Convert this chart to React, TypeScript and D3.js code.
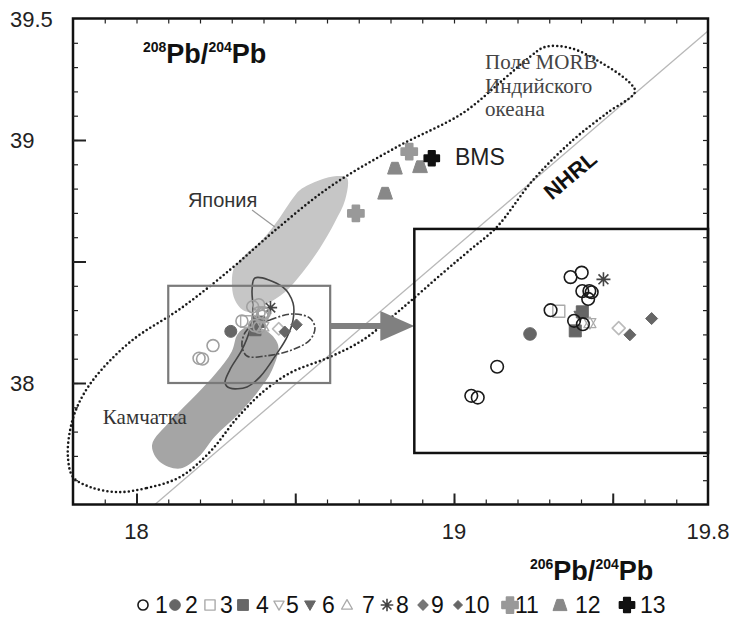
import React, { useEffect, useRef } from 'react';
import * as d3 from 'd3';

type Pt = [number, number];

// axis setup
const xDomain: Pt = [17.8, 19.8];
const yDomain: Pt = [37.5, 39.5];
const xTickLabels = [18, 19, 19.8];
const yTickLabels = [38, 39, 39.5];
const xMajorTicks = [18, 18.5, 19, 19.5];
const yMajorTicks = [38, 38.5, 39];

// Indian Ocean MORB field (dotted outline)
const morbField: Pt[] = [
  [17.939, 37.551], [18.033, 37.568], [18.137, 37.613], [18.231, 37.716], [18.317, 37.856],
  [18.398, 37.963], [18.483, 38.041], [18.609, 38.107], [18.713, 38.177], [18.83, 38.3],
  [18.965, 38.453], [19.05, 38.547], [19.135, 38.642], [19.249, 38.835], [19.375, 39.0],
  [19.482, 39.111], [19.57, 39.198], [19.554, 39.235], [19.46, 39.321], [19.365, 39.379],
  [19.287, 39.383], [19.239, 39.342], [19.154, 39.247], [19.028, 39.111], [18.82, 38.971],
  [18.609, 38.807], [18.43, 38.621], [18.301, 38.473], [18.146, 38.313], [17.98, 38.169],
  [17.863, 38.012], [17.813, 37.901], [17.791, 37.807], [17.784, 37.696], [17.8, 37.613],
  [17.854, 37.572],
];

const japanField: Pt[] = [
  [18.515, 38.794], [18.578, 38.835], [18.631, 38.852], [18.663, 38.844], [18.657, 38.753],
  [18.625, 38.663], [18.578, 38.556], [18.524, 38.457], [18.468, 38.375], [18.405, 38.321],
  [18.364, 38.292], [18.335, 38.3], [18.31, 38.342], [18.301, 38.395], [18.307, 38.473],
  [18.342, 38.527], [18.395, 38.588], [18.446, 38.671], [18.493, 38.761],
];

const kamchatkaField: Pt[] = [
  [18.348, 38.23], [18.405, 38.218], [18.446, 38.156], [18.427, 38.053], [18.38, 37.96],
  [18.318, 37.868], [18.247, 37.78], [18.195, 37.695], [18.137, 37.648], [18.074, 37.675],
  [18.049, 37.745], [18.11, 37.848], [18.19, 37.955], [18.25, 38.04], [18.3, 38.13],
  [18.318, 38.2],
];

const solidContour: Pt[] = [
  [18.373, 38.432], [18.461, 38.395], [18.493, 38.329], [18.493, 38.259], [18.474, 38.189],
  [18.443, 38.123], [18.389, 38.025], [18.348, 37.984], [18.294, 37.979], [18.279, 38.0],
  [18.294, 38.054], [18.332, 38.136], [18.357, 38.218], [18.367, 38.3], [18.364, 38.383],
];

const dashedContour: Pt[] = [
  [18.348, 38.218], [18.42, 38.259], [18.49, 38.284], [18.546, 38.267], [18.562, 38.226],
  [18.546, 38.177], [18.49, 38.136], [18.405, 38.111], [18.348, 38.111], [18.332, 38.156],
];

const nhrlLine: Pt[] = [[18.058, 37.5], [19.8, 39.449]];
const japanLeader: Pt[] = [[18.364, 38.712], [18.436, 38.642]];

// magnified window: small box on the plot and the inset frame it is drawn into
const zoomX: Pt = [18.1, 18.6];
const zoomY: Pt = [38.0, 38.4];
const insetX: Pt = [18.875, 19.8];
const insetY: Pt = [37.712, 38.634];
const arrowY = 38.235;

// sample groups (206Pb/204Pb, 208Pb/204Pb)
const group1: Pt[] = [
  [18.366, 38.314], [18.385, 38.322], [18.386, 38.289], [18.398, 38.289], [18.402, 38.287],
  [18.396, 38.275], [18.332, 38.255], [18.372, 38.236], [18.387, 38.23], [18.241, 38.154],
  [18.197, 38.102], [18.208, 38.099],
];
const group2: Pt[] = [[18.297, 38.2125]];
const group3: Pt[] = [[18.346, 38.253]];
const group4: Pt[] = [[18.386, 38.252], [18.374, 38.218]];
const group5: Pt[] = [[18.399, 38.232]];
const group6: Pt[] = [[18.382, 38.245]];
const group7: Pt[] = [[18.399, 38.232]];
const group8: Pt[] = [[18.422, 38.31]];
const group9: Pt[] = [[18.448, 38.223]];
const group10: Pt[] = [[18.467, 38.211], [18.504, 38.24]];
const group11: Pt[] = [[18.859, 38.952], [18.691, 38.698]];
const group12: Pt[] = [[18.814, 38.884], [18.893, 38.89], [18.783, 38.781]];
const group13: Pt[] = [[18.93, 38.925]];

const legendLabels = ['1', '2', '3', '4', '5', '6', '7', '8', '9', '10', '11', '12', '13'];

const SANS = '"Liberation Sans", Arial, sans-serif';
const SERIF = '"Liberation Serif", "Times New Roman", serif';

const styles: Record<string, { shape: string; fill: string; stroke: string; sw: number; s: number }> = {
  '1': { shape: 'circle', fill: 'none', stroke: '#1a1a1a', sw: 1.6, s: 6.3 },
  '2': { shape: 'circle', fill: '#666', stroke: '#666', sw: 1, s: 6.3 },
  '3': { shape: 'square', fill: 'none', stroke: '#aaa', sw: 1.4, s: 6 },
  '4': { shape: 'square', fill: '#666', stroke: '#666', sw: 1, s: 6 },
  '5': { shape: 'triDown', fill: 'none', stroke: '#aaa', sw: 1.3, s: 6 },
  '6': { shape: 'triDown', fill: '#666', stroke: '#666', sw: 1, s: 6 },
  '7': { shape: 'triUp', fill: 'none', stroke: '#aaa', sw: 1.3, s: 6 },
  '8': { shape: 'star', fill: 'none', stroke: '#444', sw: 1.6, s: 7 },
  '9': { shape: 'diamond', fill: 'none', stroke: '#bbb', sw: 1.6, s: 6.5 },
  '10': { shape: 'diamond', fill: '#666', stroke: '#666', sw: 1, s: 6 },
  '11': { shape: 'plus', fill: '#999', stroke: '#999', sw: 2, s: 7.5 },
  '12': { shape: 'trap', fill: '#888', stroke: '#888', sw: 1, s: 7 },
  '13': { shape: 'plus', fill: '#111', stroke: '#111', sw: 2, s: 7 },
};

function shapePath(shape: string, s: number): string {
  switch (shape) {
    case 'circle':
      return `M${s},0A${s},${s} 0 1,1 ${-s},0A${s},${s} 0 1,1 ${s},0Z`;
    case 'square':
      return `M${-s},${-s}H${s}V${s}H${-s}Z`;
    case 'triDown':
      return `M${-s},${-0.75 * s}L${s},${-0.75 * s}L0,${s}Z`;
    case 'triUp':
      return `M0,${-s}L${s},${0.75 * s}L${-s},${0.75 * s}Z`;
    case 'diamond':
      return `M0,${-s}L${s},0L0,${s}L${-s},0Z`;
    case 'plus': {
      const a = s * 0.42;
      return `M${-a},${-s}H${a}V${-a}H${s}V${a}H${a}V${s}H${-a}V${a}H${-s}V${-a}H${-a}Z`;
    }
    case 'trap':
      return `M${-0.45 * s},${-0.8 * s}H${0.45 * s}L${s},${0.8 * s}H${-s}Z`;
    case 'star': {
      let p = '';
      for (let k = 0; k < 4; k++) {
        const a = (k * Math.PI) / 4;
        const dx = Math.cos(a) * s, dy = Math.sin(a) * s;
        p += `M${-dx},${-dy}L${dx},${dy}`;
      }
      return p;
    }
  }
  return '';
}

const App = () => {
  const ref = useRef<SVGSVGElement>(null);

  useEffect(() => {
    if (!ref.current) return;
    const svg = d3.select(ref.current);
    svg.selectAll('*').remove();

    const x = d3.scaleLinear().domain(xDomain).range([73, 708]);
    const y = d3.scaleLinear().domain(yDomain).range([504.5, 18.5]);
    const xi = d3.scaleLinear().domain(zoomX).range([x(insetX[0]), x(insetX[1])]);
    const yi = d3.scaleLinear().domain(zoomY).range([y(insetY[0]), y(insetY[1])]);

    const line = d3.line<Pt>().x(d => x(d[0])).y(d => y(d[1]));
    const closed = d3.line<Pt>().x(d => x(d[0])).y(d => y(d[1])).curve(d3.curveCatmullRomClosed.alpha(0.5));

    // fields
    svg.append('path').attr('d', closed(japanField)).attr('fill', '#c6c6c6');
    svg.append('path').attr('d', closed(kamchatkaField)).attr('fill', '#a5a5a5');

    svg.append('path').attr('d', closed(solidContour)).attr('fill', 'none')
      .attr('stroke', '#444').attr('stroke-width', 1.6);
    svg.append('path').attr('d', closed(dashedContour)).attr('fill', 'none')
      .attr('stroke', '#444').attr('stroke-width', 1.6).attr('stroke-dasharray', '7 2 2 2');

    svg.append('path').attr('d', line(nhrlLine)).attr('stroke', '#b8b8b8')
      .attr('stroke-width', 1.3).attr('fill', 'none');

    svg.append('path').attr('d', closed(morbField)).attr('fill', 'none')
      .attr('stroke', '#1a1a1a').attr('stroke-width', 2.6)
      .attr('stroke-linecap', 'round').attr('stroke-dasharray', '0 4.3');

    svg.append('path').attr('d', line(japanLeader)).attr('stroke', '#999').attr('stroke-width', 1.2);

    // small selection box + arrow
    svg.append('rect')
      .attr('x', x(zoomX[0])).attr('y', y(zoomY[1]))
      .attr('width', x(zoomX[1] + 0.01) - x(zoomX[0])).attr('height', y(zoomY[0]) - y(zoomY[1]))
      .attr('fill', 'none').attr('stroke', '#7a7a7a').attr('stroke-width', 2.2);

    const ax0 = x(zoomX[1] + 0.01), ax1 = x(insetX[0]), ay = y(arrowY);
    svg.append('line').attr('x1', ax0).attr('x2', ax1 - 30).attr('y1', ay).attr('y2', ay)
      .attr('stroke', '#808080').attr('stroke-width', 6);
    svg.append('path').attr('d', `M${ax1 - 34},${ay - 15}L${ax1},${ay}L${ax1 - 34},${ay + 15}Z`)
      .attr('fill', '#808080');

    // inset frame
    svg.append('rect')
      .attr('x', x(insetX[0])).attr('y', y(insetY[1]))
      .attr('width', x(insetX[1]) - x(insetX[0])).attr('height', y(insetY[0]) - y(insetY[1]))
      .attr('fill', 'none').attr('stroke', '#111').attr('stroke-width', 2.5);

    const groups: [string, Pt[]][] = [
      ['2', group2], ['4', group4], ['6', group6], ['3', group3], ['5', group5], ['7', group7],
      ['9', group9], ['10', group10], ['8', group8], ['1', group1],
      ['11', group11], ['12', group12], ['13', group13],
    ];

    const drawSym = (key: string, px: number, py: number, scale: number, muted: boolean) => {
      const st = styles[key];
      const stroke = muted && key === '1' ? '#a0a0a0' : st.stroke;
      svg.append('path')
        .attr('d', shapePath(st.shape, st.s * scale))
        .attr('transform', `translate(${px},${py})`)
        .attr('fill', st.fill).attr('stroke', stroke).attr('stroke-width', st.sw)
        .attr('stroke-linejoin', 'round');
    };

    // main-plot points
    groups.forEach(([key, pts]) => {
      const big = +key >= 11;
      pts.forEach(p => drawSym(key, x(p[0]), y(p[1]), big ? 1.05 : 0.95, true));
    });
    // inset points
    groups.forEach(([key, pts]) => {
      if (+key >= 11) return;
      pts.forEach(p => drawSym(key, xi(p[0]), yi(p[1]), 1, false));
    });

    // frame + ticks
    const axes = svg.append('g').attr('stroke', '#111');
    const minorX = d3.range(179, 198).map(v => v / 10);
    const minorY = d3.range(376, 395).map(v => v / 10);
    const tickStyle = (g: any, w: number) => {
      g.select('.domain').remove();
      g.selectAll('line').attr('stroke', '#222').attr('stroke-width', w);
    };
    svg.append('g').attr('transform', 'translate(0,504.5)')
      .call(d3.axisBottom(x).tickValues(minorX).tickSize(-5).tickFormat(() => '')).call(g => tickStyle(g, 1.2));
    svg.append('g').attr('transform', 'translate(0,504.5)')
      .call(d3.axisBottom(x).tickValues(xMajorTicks).tickSize(-11).tickFormat(() => '')).call(g => tickStyle(g, 2));
    svg.append('g').attr('transform', 'translate(0,18.5)')
      .call(d3.axisTop(x).tickValues(minorX).tickSize(-5).tickFormat(() => '')).call(g => tickStyle(g, 1.2));
    svg.append('g').attr('transform', 'translate(73,0)')
      .call(d3.axisLeft(y).tickValues(minorY).tickSize(-5).tickFormat(() => '')).call(g => tickStyle(g, 1.2));
    svg.append('g').attr('transform', 'translate(73,0)')
      .call(d3.axisLeft(y).tickValues(yMajorTicks).tickSize(-13).tickFormat(() => '')).call(g => tickStyle(g, 2));
    svg.append('g').attr('transform', 'translate(708,0)')
      .call(d3.axisRight(y).tickValues(minorY).tickSize(-5).tickFormat(() => '')).call(g => tickStyle(g, 1.2));
    axes.append('rect').attr('x', 73).attr('y', 18.5).attr('width', 635).attr('height', 486)
      .attr('fill', 'none').attr('stroke-width', 2.5);

    // tick labels
    xTickLabels.forEach(v => {
      svg.append('text').attr('x', x(v)).attr('y', 539).attr('text-anchor', 'middle')
        .attr('font-family', SANS).attr('font-size', 22).attr('fill', '#222').text(String(v));
    });
    yTickLabels.forEach(v => {
      svg.append('text').attr('x', 10).attr('y', y(v) + 8).attr('text-anchor', 'start')
        .attr('font-family', SANS).attr('font-size', 22).attr('fill', '#222').text(String(v));
    });

    // axis titles
    const isoTitle = (tx: number, ty: number, a: string, b: string) => {
      const t = svg.append('text').attr('x', tx).attr('y', ty).attr('font-family', SANS)
        .attr('font-weight', 'bold').attr('fill', '#111');
      t.append('tspan').attr('font-size', 14).attr('dy', -11).text(a);
      t.append('tspan').attr('font-size', 27).attr('dy', 11).text('Pb/');
      t.append('tspan').attr('font-size', 14).attr('dy', -11).text(b);
      t.append('tspan').attr('font-size', 27).attr('dy', 11).text('Pb');
    };
    isoTitle(143, 63, '208', '204');
    isoTitle(530, 580, '206', '204');

    // annotations
    svg.append('text').attr('x', x(18.162)).attr('y', y(38.724)).attr('font-family', SANS)
      .attr('font-size', 20).attr('fill', '#333').text('Япония');
    svg.append('text').attr('x', x(17.894)).attr('y', y(37.831)).attr('font-family', SERIF)
      .attr('font-size', 21).attr('fill', '#333').text('Камчатка');
    ['Поле MORB', 'Индийского', 'океана'].forEach((s, i) => {
      svg.append('text').attr('x', x(19.098)).attr('y', y(39.292) + i * 23.5).attr('font-family', SERIF)
        .attr('font-size', 21).attr('fill', '#444').text(s);
    });
    svg.append('text').attr('x', x(19.003)).attr('y', y(38.897)).attr('font-family', SANS)
      .attr('font-size', 23).attr('fill', '#222').text('BMS');
    svg.append('text')
      .attr('transform', `translate(${x(19.365)},${y(38.856)}) rotate(-40)`)
      .attr('text-anchor', 'middle').attr('dy', 8).attr('font-family', SANS).attr('font-weight', 'bold')
      .attr('font-size', 22).attr('fill', '#111').text('NHRL');

    // legend
    const legendSymX = [143, 175, 210, 243, 279, 310, 347, 387, 423, 458, 510, 560, 627];
    const legendTxtX = [155, 185, 220, 256, 286, 322, 362, 396, 431, 464, 515, 575, 640];
    const legendScale = [0.8, 0.85, 0.85, 0.9, 0.85, 0.9, 0.9, 0.9, 0.75, 0.75, 1.05, 1, 1.05];
    legendLabels.forEach((lab, i) => {
      const st = styles[lab];
      const fill = lab === '9' ? '#777' : st.fill;
      const stroke = lab === '9' ? '#777' : st.stroke;
      svg.append('path').attr('d', shapePath(st.shape, st.s * legendScale[i]))
        .attr('transform', `translate(${legendSymX[i]},605)`)
        .attr('fill', fill).attr('stroke', stroke).attr('stroke-width', st.sw)
        .attr('stroke-linejoin', 'round');
      svg.append('text').attr('x', legendTxtX[i]).attr('y', 613).attr('font-family', SANS)
        .attr('font-size', 23).attr('fill', '#111').text(lab);
    });
  }, []);

  return (
    <svg ref={ref} width={733} height={617}
      style={{ position: 'absolute', left: 0, top: 0, background: '#fff' }} />
  );
};

export default App;
